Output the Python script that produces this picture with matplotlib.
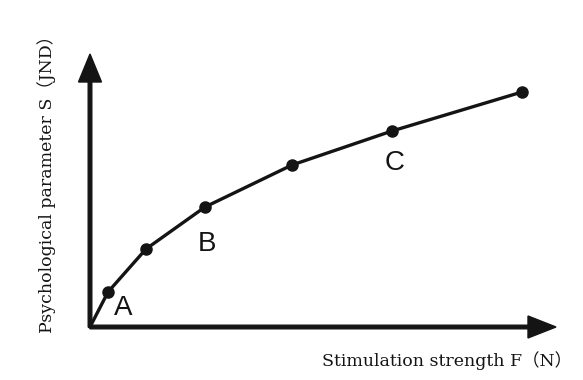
import matplotlib
matplotlib.use("Agg")
import matplotlib.pyplot as plt

# readings (arbitrary units, origin at the axes corner)
stim_F = [18, 56, 115, 202, 302, 432]
psych_S = [35, 78, 120, 162, 196, 235]

point_labels = ["A", "B", "C"]
label_pos = [(33, 19), (117, 83), (305, 164)]

x_label = "Stimulation strength F（N）"
y_label = "Psychological parameter S（JND）"

fig = plt.figure(figsize=(5.83, 3.80), dpi=100)
ax = fig.add_axes([0, 0, 1, 1])
ax.set_xlim(-90, 493)
ax.set_ylim(-53, 327)
ax.axis("off")

ink = "#141414"

# axes arrows
ax.arrow(0, 0, 466, 0, width=3.6, head_width=22, head_length=28,
         length_includes_head=True, color=ink, zorder=2)
ax.arrow(0, 0, 0, 273, width=3.6, head_width=23, head_length=28,
         length_includes_head=True, color=ink, zorder=2)

# curve starting at the origin, then the measured points
ax.plot([0] + stim_F, [0] + psych_S, color=ink, lw=2.4,
        solid_joinstyle="round", zorder=3)
ax.plot(stim_F, psych_S, "o", color=ink, ms=8, zorder=4)

for lab, (lx, ly) in zip(point_labels, label_pos):
    ax.text(lx, ly, lab, fontsize=20, family="Liberation Sans",
            ha="center", va="center", color=ink)

serif = ["DejaVu Serif", "Noto Sans CJK SC"]
ax.text(232, -34, x_label, fontsize=12.5, family=serif,
        ha="left", va="center", color=ink)
ax.text(-43, 147, y_label, fontsize=12.5, family=serif, rotation=90,
        ha="center", va="center", color=ink)

fig.savefig("out.png", dpi=100)
